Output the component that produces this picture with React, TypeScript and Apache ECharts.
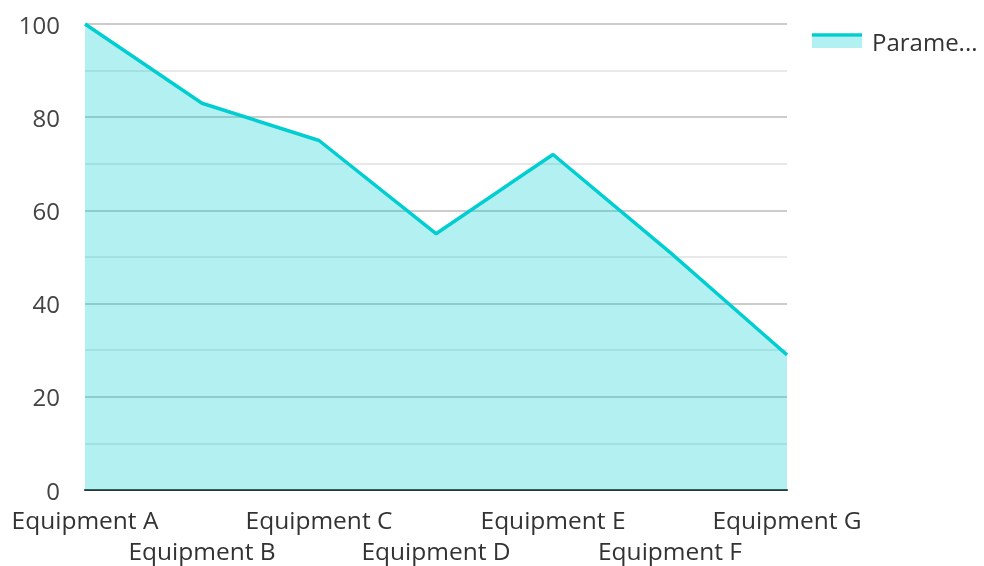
import React, { useEffect, useRef } from "react";
import * as echarts from "echarts";

const categories = ["Equipment A", "Equipment B", "Equipment C", "Equipment D", "Equipment E", "Equipment F", "Equipment G"];
const values = [100, 83, 75, 55, 72, 51, 29];
const seriesName = "Parameter Value";
const yTicks = { min: 0, max: 100, interval: 20 };

export default function App() {
  const ref = useRef<HTMLDivElement>(null);
  useEffect(() => {
    if (!ref.current) return;
    const chart = echarts.init(ref.current, undefined, { renderer: "svg" });
    const font = "'Open Sans', 'Noto Sans', sans-serif";
    chart.setOption({
      animation: false,
      grid: { left: 85, right: 197, top: 24, bottom: 75, containLabel: false },
      legend: {
        left: 812,
        top: 24,
        itemWidth: 50,
        itemHeight: 11,
        icon: "rect",
        itemStyle: { color: "rgba(0,0,0,0)" },
        formatter: (name: string) => name.slice(0, 6) + "...",
        textStyle: {
          fontFamily: font,
          fontSize: 24,
          lineHeight: 24,
          color: "#333",
        },
        data: [seriesName],
      },
      graphic: [
        {
          type: "rect",
          shape: { x: 812, y: 37, width: 50, height: 11 },
          style: { fill: "#B2F0F1" },
          z: 99,
        },
        {
          type: "line",
          shape: { x1: 812, y1: 35, x2: 862, y2: 35 },
          style: { stroke: "#00CED1", lineWidth: 3.5 },
          z: 100,
        },
      ],
      xAxis: {
        type: "category",
        data: categories,
        boundaryGap: false,
        axisLine: { lineStyle: { color: "#333", width: 2 } },
        axisTick: { show: false },
        axisLabel: {
          interval: 0,
          fontFamily: font,
          fontSize: 24.5,
          color: "#333",
          margin: 14,
          lineHeight: 31,
          formatter: (v: string, i: number) => (i % 2 === 1 ? "\n" + v : v),
        },
        splitLine: { show: false },
      },
      yAxis: {
        type: "value",
        min: yTicks.min,
        max: yTicks.max,
        interval: yTicks.interval,
        axisLine: { show: false },
        axisTick: { show: false },
        axisLabel: { fontFamily: font, fontSize: 24, lineHeight: 18, color: "#444", margin: 25 },
        splitLine: { lineStyle: { color: "#cccccc", width: 2 } },
        minorTick: { show: false, splitNumber: 2 },
        minorSplitLine: { show: true, lineStyle: { color: "#e8e8e8", width: 2 } },
      },
      series: [
        {
          name: seriesName,
          type: "line",
          data: values,
          showSymbol: false,
          symbol: "none",
          lineStyle: { color: "#00CED1", width: 3.5 },
          itemStyle: { color: "#00CED1" },
          areaStyle: { color: "#00CED1", opacity: 0.3 },
          z: 3,
        },
      ],
    });
    return () => chart.dispose();
  }, []);
  return (
    <div
      ref={ref}
      style={{ position: "fixed", left: 0, top: 0, width: 984, height: 566 }}
    />
  );
}
